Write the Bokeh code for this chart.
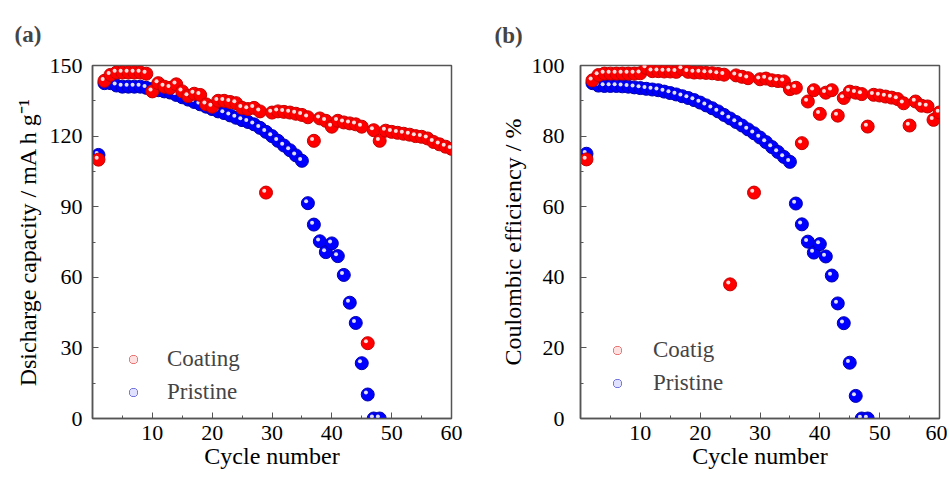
from bokeh.plotting import figure
from bokeh.layouts import row
from bokeh.models import Range1d, FixedTicker, Legend, LegendItem, ColumnDataSource
from bokeh.transform import dodge
from bokeh.embed import file_html
from bokeh.resources import INLINE

# ---------------- data ----------------
cycles_coating = list(range(1, 61))
capacity_coating = [110, 143.5, 146, 147, 147, 147, 147, 147, 146.5, 139,
                    142.5, 141, 140.5, 142, 139, 137, 138, 137.5, 133.5, 132.5,
                    135, 135, 134.5, 134, 132, 131.5, 132, 130.5, 96, 130,
                    130.5, 130.3, 130, 129.5, 129, 128, 118, 127.5, 126.5, 124,
                    126.5, 125.8, 125.4, 125, 124, 32, 122.5, 118, 122.3, 121.8,
                    121.4, 121, 120.6, 120, 119.7, 119, 117.5, 116.5, 115.5, 114.6]
cycles_pristine = list(range(1, 49))
capacity_pristine = [112, 142.5, 142.5, 141.5, 141, 141, 141, 141, 140.5, 140,
                     139.5, 139, 138.5, 137.5, 136.5, 135.5, 134.5, 133.5, 132.5, 131.5,
                     130.5, 129.8, 128.8, 127.8, 126.8, 126, 125, 123.5, 121.8, 120,
                     118, 116, 114, 111.8, 109.5, 91.5, 82.4, 75.3, 70.7, 74.4,
                     69, 61, 49.2, 40.6, 23.5, 10.2, 0, 0]
ce_coating = [73.4, 95.8, 97.3, 97.7, 97.7, 97.7, 97.7, 97.7, 97.7, 97.8,
              99.3, 98.4, 98.4, 98.3, 98.3, 98.2, 99, 98.2, 98, 98,
              97.9, 97.8, 97.6, 97.4, 38, 97.2, 96.8, 96.4, 64, 96.1,
              96.3, 95.8, 95.6, 95.5, 93.3, 93.7, 78, 89.8, 93, 86.3,
              92.3, 93, 85.8, 90.8, 92.6, 92.3, 91.9, 82.7, 91.7, 91.5,
              91.2, 90.9, 90.5, 89.3, 83, 89.8, 88.6, 88.4, 84.6, 86.7]
ce_pristine = [75, 95, 94.3, 94.2, 94.2, 94.2, 94.1, 94, 93.8, 93.6,
               93.4, 93.2, 93, 92.6, 92.2, 91.8, 91.3, 90.8, 90.2, 89.5,
               88.7, 87.9, 87, 86, 85, 84, 83, 81.9, 80.8, 79.6,
               78.3, 76.9, 75.5, 74.1, 72.7, 60.9, 55, 50.1, 47, 49.4,
               45.9, 40.5, 32.6, 27, 15.8, 6.4, 0, 0]

x_major_ticks = [10, 20, 30, 40, 50, 60]
x_minor_ticks = [5, 15, 25, 35, 45, 55]
cap_major_ticks = [0, 30, 60, 90, 120, 150]
cap_minor_ticks = [15, 45, 75, 105, 135]
ce_major_ticks = [0, 20, 40, 60, 80, 100]
ce_minor_ticks = [10, 30, 50, 70, 90]

FONT = "'Liberation Serif', 'Times New Roman', serif"
AX = "#555555"


def style(p, xt, xm, yt, ym, ylab_standoff, ytick_standoff):
    p.outline_line_color = AX
    p.outline_line_width = 1.5
    p.xgrid.visible = False
    p.ygrid.visible = False
    for ax in (p.xaxis[0], p.yaxis[0]):
        ax.axis_line_color = AX
        ax.axis_line_width = 1.5
        ax.major_tick_line_color = AX
        ax.minor_tick_line_color = AX
        ax.major_tick_in = 6
        ax.major_tick_out = 0
        ax.minor_tick_in = 3
        ax.minor_tick_out = 0
        ax.major_label_text_font = FONT
        ax.major_label_text_font_size = "22px"
        ax.major_label_text_color = "black"
        ax.axis_label_text_font = FONT
        ax.axis_label_text_font_size = "24px"
        ax.axis_label_text_font_style = "normal"
        ax.axis_label_text_color = "black"
    p.xaxis[0].ticker = FixedTicker(ticks=xt, minor_ticks=xm)
    p.yaxis[0].ticker = FixedTicker(ticks=yt, minor_ticks=ym)
    p.xaxis[0].major_label_standoff = 7
    p.xaxis[0].axis_label_standoff = 0
    p.yaxis[0].major_label_standoff = ytick_standoff
    p.yaxis[0].axis_label_standoff = ylab_standoff
    p.title.text_font = FONT
    p.title.text_font_size = "23px"
    p.title.text_font_style = "bold"
    p.title.align = "left"


def spheres(p, x, y, color, edge, hl, dy):
    src = ColumnDataSource(dict(x=x, y=y))
    r1 = p.scatter("x", "y", source=src, size=13, fill_color=color, line_color=edge, line_width=1)
    r2 = p.scatter(dodge("x", -0.3), dodge("y", dy), source=src, size=4,
                   fill_color=hl, line_color=None)
    return [r1, r2]


# ---------------- (a) ----------------
pa = figure(width=485, height=479, output_backend="svg", toolbar_location=None,
            x_range=Range1d(0, 60), y_range=Range1d(0, 150),
            min_border_left=92, min_border_right=34, min_border_top=64, min_border_bottom=58,
            title="(a)")
style(pa, x_major_ticks, x_minor_ticks, cap_major_ticks, cap_minor_ticks, 6, 10)
pa.title.offset = -78
pa.title.standoff = 38
pa.xaxis.axis_label = "Cycle number"
pa.yaxis.axis_label = "Dsicharge capacity / mA h g\u207b\u00b9"
ra_p = spheres(pa, cycles_pristine, capacity_pristine, "#0000ff", "#0000b0", "#e0e0ff", 0.8)
ra_c = spheres(pa, cycles_coating, capacity_coating, "#ff0000", "#c80000", "#ffe0e0", 0.8)
leg_a = Legend(items=[LegendItem(label="Coating", renderers=ra_c),
                      LegendItem(label="Pristine", renderers=ra_p)],
               location=(31, 13), padding=0, margin=0, spacing=7,
               glyph_width=20, glyph_height=24, label_height=24, label_standoff=24,
               label_text_font=FONT, label_text_font_size="23px",
               border_line_alpha=0, background_fill_alpha=0)
pa.add_layout(leg_a)

# ---------------- (b) ----------------
pb = figure(width=462, height=479, output_backend="svg", toolbar_location=None,
            x_range=Range1d(0, 60), y_range=Range1d(0, 100),
            min_border_left=95, min_border_right=8, min_border_top=61, min_border_bottom=61,
            title="(b)")
style(pb, x_major_ticks, x_minor_ticks, ce_major_ticks, ce_minor_ticks, 3, 16)
pb.title.offset = -86
pb.title.standoff = 35
pb.xaxis.axis_label = "Cycle number"
pb.yaxis.axis_label = "Coulombic efficiency / %"
rb_p = spheres(pb, cycles_pristine, ce_pristine, "#0000ff", "#0000b0", "#e0e0ff", 0.5)
rb_c = spheres(pb, cycles_coating, ce_coating, "#ff0000", "#c80000", "#ffe0e0", 0.5)
leg_b = Legend(items=[LegendItem(label="Coatig", renderers=rb_c),
                      LegendItem(label="Pristine", renderers=rb_p)],
               location=(27, 22), padding=0, margin=0, spacing=7,
               glyph_width=20, glyph_height=24, label_height=24, label_standoff=26,
               label_text_font=FONT, label_text_font_size="23px",
               border_line_alpha=0, background_fill_alpha=0)
pb.add_layout(leg_b)

layout = row(pa, pb)
open("out.html", "w").write(file_html(layout, INLINE))
